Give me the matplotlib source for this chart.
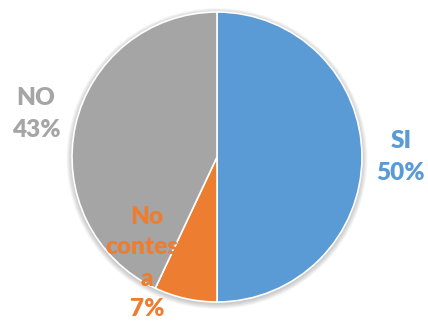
import matplotlib
matplotlib.use("Agg")
import matplotlib.pyplot as plt
from matplotlib.patches import Circle

labels = ["SI", "No\ncontest\na", "NO"]
values = [50, 7, 43]
colors = ["#5B9BD5", "#ED7D31", "#A5A5A5"]

W, H = 428, 322
fig = plt.figure(figsize=(W / 100, H / 100), dpi=100)
ax = fig.add_axes([0, 0, 1, 1])

cx, cy, r = 217, H - 157, 145

# soft drop shadow under the pie
for k in range(1, 7):
    ax.add_patch(Circle((cx, cy - 1.5), r + k * 0.9, facecolor="black",
                        edgecolor="none", alpha=0.035, zorder=0))

ax.pie(values, colors=colors, startangle=90, counterclock=False,
       center=(cx, cy), radius=r, frame=True,
       wedgeprops=dict(edgecolor="white", linewidth=1.2, zorder=2))
ax.set_xlim(0, W)
ax.set_ylim(0, H)
ax.set_aspect("equal")
ax.axis("off")

font = dict(family=["Lato", "DejaVu Sans"], fontweight="heavy", fontsize=17.5,
            ha="center", va="center")
positions = [(401, H - 157), (147, H - 263), (36, H - 114)]
spacing = [1.58, 1.5, 1.58]
for lab, val, col, (x, y), ls in zip(labels, values, colors, positions, spacing):
    ax.text(x, y, f"{lab}\n{val}%", color=col, zorder=5, linespacing=ls, **font)

fig.savefig("out.png", dpi=100)
